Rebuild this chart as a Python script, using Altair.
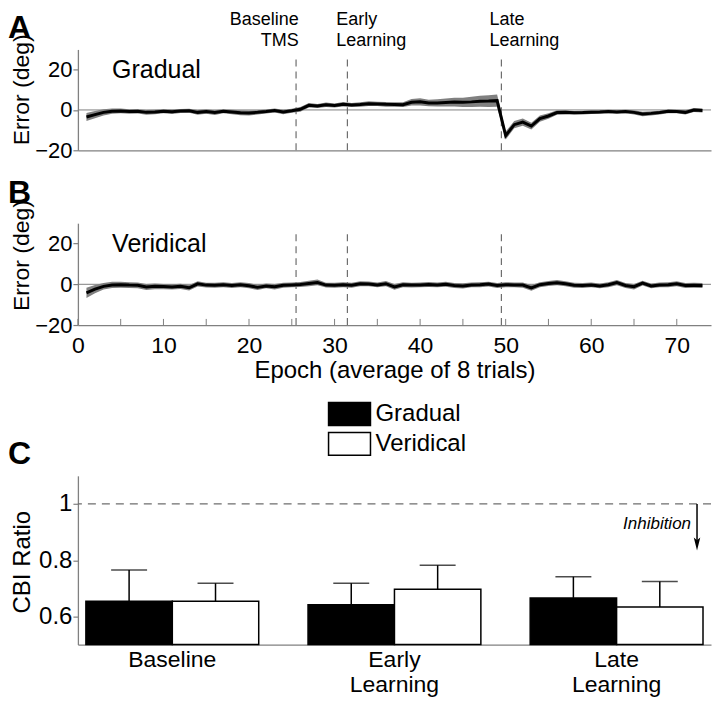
import altair as alt
import pandas as pd

FONT = "Liberation Sans, Arial, Helvetica, sans-serif"
GRAY = "#808080"
DASH_GRAY = "#6e6e6e"

# ---------------- data ----------------
epochs = list(range(1, 74))
gradual_mean = [
    -3.5, -2.3, -1.2, -0.6, -0.5, -0.8, -0.7, -1.2, -1.0, -0.6,
    -0.9, -0.5, -0.4, -1.2, -0.8, -1.3, -0.6, -1.0, -1.4, -1.5,
    -1.2, -0.8, -0.3, -1.0, -0.4, 0.3, 2.3, 2.0, 2.6, 2.2,
    2.8, 2.4, 2.7, 3.1, 3.0, 2.8, 2.7, 2.6, 3.8, 4.0,
    3.4, 3.5, 3.7, 3.9, 3.8, 4.0, 4.3, 4.4, 4.6, -12.7,
    -7.3, -6.0, -8.0, -4.3, -3.0, -1.3, -1.2, -1.4, -1.3, -1.1,
    -1.0, -0.8, -1.0, -0.8, -1.2, -2.0, -1.7, -1.3, -0.7, -0.8,
    -1.2, 0.0, -0.3]
gradual_se = [
    2.0, 1.8, 1.5, 1.3, 1.2, 1.1, 1.1, 1.2, 1.1, 1.0,
    1.1, 1.0, 1.0, 1.2, 1.1, 1.2, 1.0, 1.1, 1.2, 1.2,
    1.1, 1.0, 1.0, 1.1, 1.0, 1.2, 1.1, 1.0, 1.1, 1.0,
    1.1, 1.0, 1.1, 1.2, 1.1, 1.2, 1.1, 1.2, 1.6, 1.8,
    1.6, 1.8, 2.0, 2.2, 2.3, 2.5, 2.7, 2.9, 3.0, 2.0,
    1.8, 1.8, 1.7, 1.5, 1.4, 1.1, 1.0, 0.9, 0.9, 0.9,
    0.9, 0.9, 0.9, 0.9, 1.0, 1.1, 1.0, 0.9, 0.9, 0.9,
    1.0, 1.0, 1.0]
veridical_mean = [
    -4.2, -2.4, -1.0, -0.3, -0.2, -0.4, -0.5, -1.3, -1.0, -1.1,
    -1.3, -1.0, -1.7, 0.2, -0.4, -0.5, -0.2, -0.6, -0.2, -0.7,
    -1.5, -0.8, -1.2, -0.5, -0.3, -0.1, 0.4, 0.9, -0.4, -0.5,
    -0.2, -0.5, 0.3, 0.2, -0.3, 0.3, -1.3, -0.2, -0.4, -0.3,
    -0.1, -0.3, 0.0, -0.6, -0.8, -0.3, -0.2, 0.1, -0.6, -0.2,
    -0.3, -0.4, -1.8, -0.2, 0.4, 0.8, 0.3, -0.5, -0.6, -0.3,
    -0.8, -0.2, 0.8, -0.6, -1.2, 0.6, -0.8, -0.3, -0.2, 0.3,
    -0.6, -0.5, -0.6]
veridical_se = [
    2.5, 2.0, 1.6, 1.5, 1.5, 1.4, 1.4, 1.5, 1.4, 1.3,
    1.3, 1.3, 1.4, 1.3, 1.2, 1.2, 1.2, 1.2, 1.2, 1.3,
    1.3, 1.2, 1.3, 1.2, 1.2, 1.2, 1.3, 1.4, 1.2, 1.2,
    1.2, 1.2, 1.2, 1.2, 1.2, 1.3, 1.4, 1.2, 1.2, 1.2,
    1.2, 1.2, 1.2, 1.2, 1.3, 1.2, 1.2, 1.2, 1.2, 1.2,
    1.2, 1.3, 1.4, 1.2, 1.2, 1.3, 1.2, 1.2, 1.2, 1.2,
    1.2, 1.2, 1.3, 1.2, 1.3, 1.2, 1.2, 1.2, 1.2, 1.2,
    1.2, 1.2, 1.2]

x_tick_values = list(range(0, 75, 5))
x_label_values = list(range(0, 80, 10))
y_tick_values = [-20, 0, 20]
phase_markers = [25.5, 31.5, 49.5]
phase_labels = [["Baseline", "TMS"], ["Early", "Learning"], ["Late", "Learning"]]

groups = ["Baseline", "Early Learning", "Late Learning"]
conditions = ["Gradual", "Veridical"]
cbi_gradual = [0.654, 0.642, 0.666]
cbi_gradual_se = [0.111, 0.076, 0.075]
cbi_veridical = [0.654, 0.697, 0.634]
cbi_veridical_se = [0.064, 0.085, 0.090]
cbi_ticks = [0.6, 0.8, 1.0]

W = 634
LEFT = -70


def text_chart(txt, x, y, size, align="left", baseline="middle", weight="normal", style="normal"):
    return alt.Chart(pd.DataFrame({"t": [txt]})).mark_text(
        align=align, baseline=baseline, fontSize=size, font=FONT,
        fontWeight=weight, fontStyle=style, color="black"
    ).encode(x=x, y=y, text="t:N")


def multi_text(lines, x, y, size, align="left"):
    return alt.Chart(pd.DataFrame({"a": [0]})).mark_text(
        text=lines, align=align, baseline="alphabetic", fontSize=size, font=FONT,
        lineHeight=20.5, color="black"
    ).encode(x=x, y=y)


def ts_panel(mean, se, cond_label, letter, bottom_axis, annotate, title_y, letter_y, height):
    df = pd.DataFrame({
        "epoch": epochs,
        "mean": mean,
        "lo": [m - s for m, s in zip(mean, se)],
        "hi": [m + s for m, s in zip(mean, se)],
    })
    xs = alt.Scale(domain=[0, 74], nice=False, zero=False)
    ys = alt.Scale(domain=[-20, 30], nice=False, zero=False)
    if bottom_axis:
        xaxis = alt.Axis(values=x_label_values, format="d", ticks=False, tickSize=0,
                         labelFontSize=23, labelPadding=9, labelFlush=False,
                         title="Epoch (average of 8 trials)", titleFontSize=24,
                         titlePadding=2, grid=False)
    else:
        xaxis = alt.Axis(labels=False, ticks=False, tickSize=0, title=None, grid=False)
    yaxis = alt.Axis(values=y_tick_values, tickSize=5, labelPadding=1, labelFontSize=22,
                     labelFlush=False, title="Error (deg)", titleFontSize=23,
                     titleX=-49, titleY=title_y, titleBaseline="alphabetic", grid=False)

    X = lambda f: alt.X(f, scale=xs, axis=xaxis)
    Y = lambda f: alt.Y(f, scale=ys, axis=yaxis)

    zero = alt.Chart(pd.DataFrame({"lo": [0]})).mark_rule(
        color=GRAY, strokeWidth=1).encode(y=Y("lo:Q"))
    dash = alt.Chart(pd.DataFrame({"epoch": phase_markers})).mark_rule(
        color=DASH_GRAY, strokeDash=[7, 5], strokeWidth=1.2
    ).encode(x=X("epoch:Q"), y=alt.datum(-20), y2=alt.datum(27))
    band = alt.Chart(df).mark_area(color=GRAY, opacity=1).encode(
        x=X("epoch:Q"), y=Y("lo:Q"), y2="hi:Q")
    line = alt.Chart(df).mark_line(color="black", strokeWidth=3).encode(
        x=X("epoch:Q"), y=Y("mean:Q"))

    layers = [zero, dash, band, line]
    if bottom_axis:
        ticks = alt.Chart(pd.DataFrame({"epoch": x_tick_values})).mark_rule(
            color=GRAY, strokeWidth=1
        ).encode(x=X("epoch:Q"), y=alt.datum(-20), y2=alt.datum(-17))
        layers.append(ticks)

    layers.append(text_chart(cond_label, alt.datum(4.0), alt.datum(20), 25))
    layers.append(text_chart(letter, alt.value(LEFT), alt.value(letter_y), 32,
                             baseline="alphabetic", weight="bold"))
    if annotate:
        # invisible guard so that the tallest glyph boxes stay inside the page
        layers.append(alt.Chart(pd.DataFrame({"a": [0]})).mark_point(
            opacity=0, size=1).encode(x=alt.value(0), y=alt.value(-40)))
        layers += [
            multi_text(phase_labels[0], alt.datum(25.8), alt.value(-24), 18, align="right"),
            multi_text(phase_labels[1], alt.datum(30.2), alt.value(-24), 18),
            multi_text(phase_labels[2], alt.datum(48.1), alt.value(-24), 18),
        ]
    return alt.layer(*layers).properties(width=W, height=height)


panel_a = ts_panel(gradual_mean, gradual_se, "Gradual", "A", False, True, 40, -11, 101)
panel_b = ts_panel(veridical_mean, veridical_se, "Veridical", "B", True, False, 32, -20, 102)

# ---------------- panel C ----------------
cbi = pd.DataFrame({
    "group": groups * 2,
    "condition": ["Gradual"] * 3 + ["Veridical"] * 3,
    "value": cbi_gradual + cbi_veridical,
    "top": [v + e for v, e in zip(cbi_gradual + cbi_veridical, cbi_gradual_se + cbi_veridical_se)],
})

xC = alt.X("group:N", sort=groups,
           scale=alt.Scale(paddingInner=0.222, paddingOuter=0.036),
           axis=alt.Axis(labelExpr="split(datum.label, ' ')", labelFontSize=23, labelAngle=0,
                         labelPadding=4, labelLineHeight=25, labelBaseline="top",
                         ticks=False, tickSize=0, title=None, grid=False))
xo = alt.XOffset("condition:N", sort=conditions,
                 scale=alt.Scale(paddingInner=0, paddingOuter=0))
ysC = alt.Scale(domain=[0.5, 1.1], nice=False, zero=False)
yaC = alt.Axis(values=cbi_ticks, format="~g", tickSize=5, labelPadding=1, labelFontSize=24,
               labelFlush=False, title="CBI Ratio", titleFontSize=24, titleX=-48, titleY=86,
               titleBaseline="alphabetic", grid=False)
YC = lambda f: alt.Y(f, scale=ysC, axis=yaC)

ref_line = alt.Chart(pd.DataFrame({"value": [1.0]})).mark_rule(
    color=DASH_GRAY, strokeDash=[8, 6], strokeWidth=1.2).encode(y=YC("value:Q"))

bars = alt.Chart(cbi).mark_bar(stroke="black", strokeWidth=1.5).encode(
    x=xC, xOffset=xo, y=YC("value:Q"), y2=alt.datum(0.5),
    color=alt.Color("condition:N",
                    scale=alt.Scale(domain=conditions, range=["black", "white"]),
                    legend=alt.Legend(title=None, orient="none", legendX=259, legendY=-75,
                                      symbolType="M-1.714,-0.939H1.714V0.939H-1.714Z",
                                      symbolSize=600,
                                      symbolStrokeColor="black", symbolStrokeWidth=1.5,
                                      symbolOpacity=1, labelFontSize=24, labelFont=FONT,
                                      labelOffset=13, rowPadding=0, padding=0)))
err = alt.Chart(cbi).mark_rule(color="black", strokeWidth=1.5).encode(
    x=xC, xOffset=xo, y=YC("value:Q"), y2="top:Q")
caps = alt.Chart(cbi).mark_tick(color="black", thickness=1.5, size=36, orient="horizontal").encode(
    x=xC, xOffset=xo, y=YC("top:Q"))

inhib_text = text_chart("Inhibition", alt.value(614), alt.datum(0.93), 17, align="right", style="italic")
arrow_line = alt.Chart(pd.DataFrame({"a": [0]})).mark_rule(color="black", strokeWidth=1.5).encode(
    x=alt.value(620), y=alt.datum(1.0), y2=alt.datum(0.85))
arrow_head = alt.Chart(pd.DataFrame({"a": [0]})).mark_point(
    shape="M-0.5,-1L0,1L0.5,-1L0,-0.55Z", filled=True, size=169, color="black", opacity=1
).encode(x=alt.value(620), y=alt.datum(0.858))
letter_c = text_chart("C", alt.value(LEFT), alt.value(-12), 32, baseline="alphabetic", weight="bold")

panel_c = alt.layer(ref_line, bars, err, caps, inhib_text, arrow_line, arrow_head, letter_c
                    ).properties(width=W, height=169)

spacer = alt.Chart(pd.DataFrame({"a": [0]})).mark_point(opacity=0).properties(width=W, height=5)

chart = alt.vconcat(panel_a, panel_b, spacer, panel_c, spacing=73, bounds="flush").properties(
    padding=0
).resolve_legend(color="independent").resolve_scale(color="independent").configure_view(
    stroke=None
).configure_axis(
    domainColor=GRAY, tickColor=GRAY, domainWidth=1.3, tickWidth=1.2,
    labelFont=FONT, titleFont=FONT, labelColor="black", titleColor="black",
    titleFontWeight="normal", grid=False
).configure_legend(labelFont=FONT)

chart.save("out.html", embed_options={"renderer": "svg", "actions": False})
